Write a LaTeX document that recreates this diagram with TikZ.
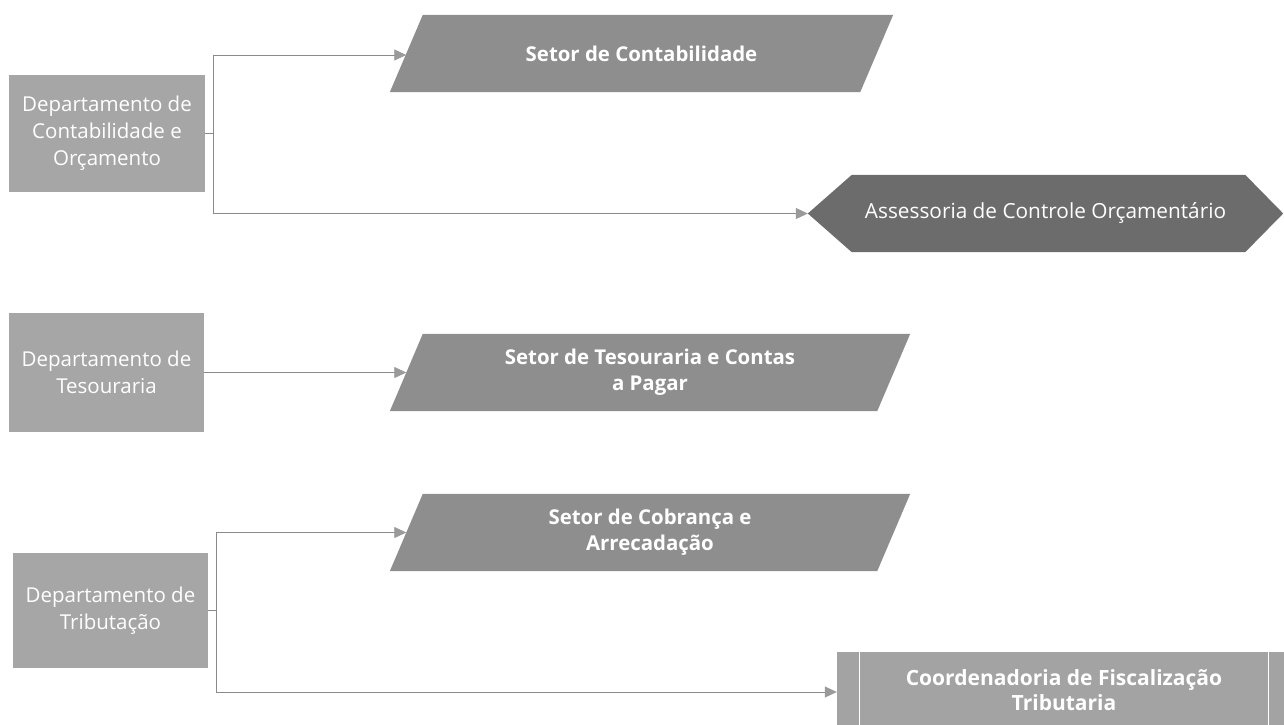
\documentclass[tikz,border=0pt]{standalone}
\usepackage{fontspec}
\setmainfont{Open Sans}
\usetikzlibrary{arrows.meta}
\definecolor{deptgray}{HTML}{A6A6A6}
\definecolor{setgray}{HTML}{8E8E8E}
\definecolor{hexgray}{HTML}{6C6C6C}
\definecolor{coordgray}{HTML}{A3A3A3}
\definecolor{linegray}{HTML}{8A8A8A}
\definecolor{tipgray}{HTML}{9A9A9A}
\tikzset{
  dept/.style={rectangle, fill=deptgray, text=white, align=center, inner sep=0pt,
    font=\fontsize{20.5}{27}\selectfont},
  setor/.style={rectangle, text=white, align=center, inner sep=0pt,
    minimum height=77pt, font=\bfseries\fontsize{20.4}{26}\selectfont},
  hexbox/.style={rectangle, draw=none, text=white, inner sep=0pt, minimum height=77pt,
    minimum width=475pt, font=\fontsize{20.8}{26}\selectfont},
  coordbox/.style={rectangle, fill=coordgray, text=white, align=center, inner sep=0pt,
    minimum height=77pt, minimum width=454pt, font=\bfseries\fontsize{21}{25}\selectfont},
  conn/.style={draw=linegray, line width=0.8pt, -{Triangle[length=12pt,width=11pt,fill=tipgray,color=tipgray]}},
  plain/.style={draw=linegray, line width=0.8pt}
}
\newcommand{\parfill}[1]{%
  \fill[setgray] ([xshift=-16.5pt]#1.south west) -- ([xshift=16.5pt]#1.north west)
    -- ([xshift=16.5pt]#1.north east) -- ([xshift=-16.5pt]#1.south east) -- cycle;}
\begin{document}
\begin{tikzpicture}[x=1pt,y=-1pt]
\useasboundingbox (0,0) rectangle (1284,724);
% departments
\node[dept, minimum width=196pt, minimum height=117pt] (d1) at (107,133) {Departamento de\\Contabilidade e\\Orçamento};
\node[dept, minimum width=195pt, minimum height=119pt] (d2) at (106.5,372.5) {Departamento de\\Tesouraria};
\node[dept, minimum width=195pt, minimum height=115pt] (d3) at (110.5,610.5) {Departamento de\\Tributação};
% sectors (parallelograms)
\node[setor, minimum width=470pt] (p1) at (641.5,53.5) {};
\node[setor, minimum width=487pt] (p2) at (650,372.5) {};
\node[setor, minimum width=487pt] (p3) at (650,532.5) {};
\parfill{p1}\parfill{p2}\parfill{p3}
\node[setor] (p1t) at (p1.center) {Setor de Contabilidade};
\node[setor] (p2t) at (p2.center) {Setor de Tesouraria e Contas\\a Pagar};
\node[setor] (p3t) at (p3.center) {Setor de Cobrança e\\Arrecadação};
% hexagon
\node[hexbox] (hx) at (1045.5,213.5) {};
\fill[hexgray] (hx.west) -- ([xshift=44pt]hx.north west) -- ([xshift=-38pt]hx.north east)
  -- (hx.east) -- ([xshift=-38pt]hx.south east) -- ([xshift=44pt]hx.south west) -- cycle;
\node[hexbox] (hxt) at (hx.center) {Assessoria de Controle Orçamentário};
% coordenadoria
\node[coordbox] (co) at (1064,690.5) {Coordenadoria de Fiscalização\\Tributaria};
\draw[white, line width=1pt] ([xshift=23pt]co.north west) -- ([xshift=23pt]co.south west);
\draw[white, line width=1pt] ([xshift=-23pt]co.north east) -- ([xshift=-23pt]co.south east);
% connectors
\coordinate (j1) at ([xshift=8pt]d1.east);
\coordinate (j3) at ([xshift=8pt]d3.east);
\draw[plain] (d1.east) -- (j1);
\draw[conn] (j1) |- ([yshift=-1.5pt]p1.west);
\draw[conn] (j1) |- (hx.west);
\draw[conn] (d2.east) -- (d2.east -| p2.west);
\draw[plain] (d3.east) -- (j3);
\draw[conn] (j3) |- (p3.west);
\draw[conn] (j3) |- ([yshift=-1.5pt]co.west);
\end{tikzpicture}
\end{document}
